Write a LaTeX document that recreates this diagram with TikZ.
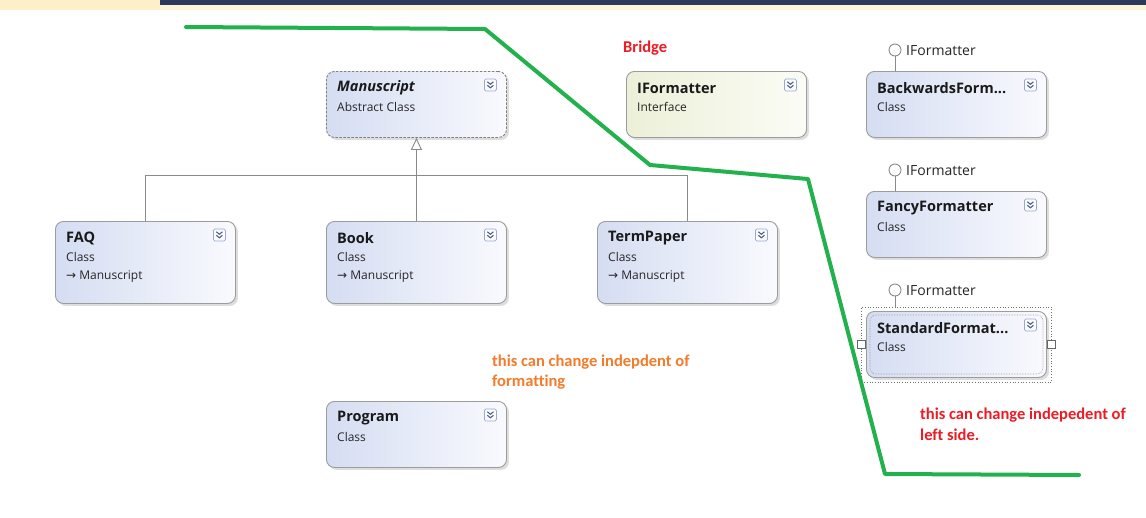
\documentclass[tikz,border=0pt]{standalone}
\usepackage{fontspec}
\setmainfont{Open Sans}
\newfontfamily\annot[Ligatures=NoCommon]{Carlito}
\newfontfamily\dejavu{DejaVu Sans}
\usetikzlibrary{shadows,arrows.meta}
\definecolor{navy}{HTML}{2B3A5C}
\definecolor{strip}{HTML}{FFF3D6}
\definecolor{stripL}{HTML}{FFEFC8}
\definecolor{boxborder}{HTML}{9C9C9C}
\definecolor{blueL}{HTML}{D5DDF2}
\definecolor{blueR}{HTML}{F9FAFE}
\definecolor{greenL}{HTML}{ECF0D8}
\definecolor{greenR}{HTML}{FBFCF6}
\definecolor{chevc}{HTML}{4A5E90}
\definecolor{expb}{HTML}{9AAAD0}
\definecolor{paintgreen}{HTML}{22B14C}
\definecolor{paintred}{HTML}{ED1C24}
\definecolor{paintorange}{HTML}{F47B2A}
\definecolor{linec}{HTML}{8A8A8A}
\tikzset{
  cls/.style={draw=boxborder, line width=0.9pt, rounded corners=8pt,
    minimum width=180pt, minimum height=66pt, anchor=north west, inner sep=0pt,
    left color=blueL, right color=blueR,
    drop shadow={shadow xshift=2.5pt, shadow yshift=-2.5pt, fill=black!22, opacity=0.6}},
  ttl/.style={anchor=west, inner sep=0pt, font=\fontsize{14.5}{16}\selectfont\bfseries, text=black!90},
  sub/.style={anchor=west, inner sep=0pt, font=\fontsize{12}{14}\selectfont, text=black!85},
  exp/.style={draw=expb, fill=white!92!blueL, rounded corners=1.5pt, minimum size=12pt, inner sep=0pt, line width=0.7pt},
  chev/.style={draw=chevc, line width=1.1pt},
  conn/.style={draw=linec, line width=0.9pt},
  lolly/.style={circle, draw=linec, fill=white, line width=0.9pt, minimum size=12pt, inner sep=0pt},
  llab/.style={anchor=west, inner sep=0pt, font=\fontsize{14}{16}\selectfont, text=black!85},
  note/.style={anchor=west, inner sep=0pt, font=\annot\bfseries\fontsize{16.5}{18}\selectfont},
  handline/.style={draw=paintgreen, line width=4pt, line join=round, line cap=round},
}
\newcommand{\expander}[1]{%
  \node[exp] (#1-e) at ([xshift=-16.5pt,yshift=-14pt]#1.north east) {};
  \draw[chev] ([shift={(-3pt,3.2pt)}]#1-e.center) -- ([shift={(0pt,0.7pt)}]#1-e.center) -- ([shift={(3pt,3.2pt)}]#1-e.center);
  \draw[chev] ([shift={(-3pt,-0.3pt)}]#1-e.center) -- ([shift={(0pt,-2.8pt)}]#1-e.center) -- ([shift={(3pt,-0.3pt)}]#1-e.center);
}
\newcommand{\boxtext}[3]{%
  \node[ttl] (#1-t) at ([xshift=11pt,yshift=-17.5pt]#1.north west) {#2};
  \node[sub] (#1-s) at ([xshift=11pt,yshift=-36pt]#1.north west) {#3};
}
\begin{document}
\begin{tikzpicture}[x=1pt,y=-1pt]
\useasboundingbox (0,0) rectangle (1146,517);
\fill[white] (0,0) rectangle (1146,517);
% top strip
\fill[strip] (0,0) rectangle (1146,10);
\fill[stripL] (0,0) rectangle (160,10);
\fill[navy] (160,0) rectangle (1146,4.6);

% boxes
\node[cls, draw=black!50, dashed, dash pattern=on 2.5pt off 1.5pt] (ms) at (326,71) {};
\node[cls, left color=greenL, right color=greenR] (ifm) at (626,71) {};
\node[cls] (bf) at (866,71) {};
\node[cls] (ff) at (866,191) {};
\node[cls] (sf) at (866,311) {};
\node[cls, minimum height=82pt] (faq) at (55,221) {};
\node[cls, minimum height=82pt] (book) at (326,221) {};
\node[cls, minimum height=82pt] (tp) at (597,221) {};
\node[cls] (prog) at (326,401) {};

% selection frame on StandardFormatter
\node[draw=black!55, dotted, line width=0.7pt, minimum width=190pt, minimum height=75pt, inner sep=0pt] (sel) at (sf.center) {};
\node[draw=black!40, densely dotted, rounded corners=6pt, line width=0.6pt, minimum width=173pt, minimum height=59pt, inner sep=0pt] (selin) at (sf.center) {};
\node[draw=black!60, fill=white, minimum size=8pt, inner sep=0pt, line width=0.7pt] (selL) at (sel.west) {};
\node[draw=black!60, fill=white, minimum size=8pt, inner sep=0pt, line width=0.7pt] (selR) at (sel.east) {};

% texts
\node[ttl, font=\fontsize{14.5}{16}\selectfont\bfseries\itshape] (ms-t) at ([xshift=11pt,yshift=-16.5pt]ms.north west) {Manuscript};
\node[sub] (ms-s) at ([xshift=11pt,yshift=-36pt]ms.north west) {Abstract Class};
\boxtext{ifm}{IFormatter}{Interface}
\boxtext{bf}{BackwardsForm...}{Class}
\boxtext{ff}{FancyFormatter}{Class}
\boxtext{sf}{StandardFormat...}{Class}
\boxtext{faq}{FAQ}{Class}
\boxtext{book}{Book}{Class}
\boxtext{tp}{TermPaper}{Class}
\boxtext{prog}{Program}{Class}
\foreach \b in {faq,book,tp}{
  \node[sub] (\b-p) at ([xshift=11pt,yshift=-56pt]\b.north west) {{\dejavu\fontsize{12}{14}\selectfont →}\ Manuscript};
}
\foreach \b in {ms,ifm,bf,ff,sf,faq,book,tp,prog}{\expander{\b}}

% inheritance
\coordinate (bar) at (416,175);
\draw[conn] (faq.north) |- (bar);
\draw[conn] (tp.north) |- (bar);
\draw[conn, -{Triangle[open, length=12pt, width=11pt, line width=0.9pt]}] (book.north) -- (ms.south);

% lollipops
\node[lolly] (l1) at (895,50) {};
\node[lolly] (l2) at (895,170) {};
\node[lolly] (l3) at (895,290) {};
\draw[conn] (l1.south) -- (l1 |- bf.north);
\draw[conn] (l2.south) -- (l2 |- ff.north);
\draw[conn] (l3.south) -- (l3 |- sel.north);
\node[llab] (l1-t) at (906,51) {IFormatter};
\node[llab] (l2-t) at (906,171) {IFormatter};
\node[llab] (l3-t) at (906,291) {IFormatter};

% annotations
\node[note, text=paintred] (bridge) at (623,48) {Bridge};
\node[note, text=paintorange] (n1a) at (492,362) {this can change indepdent of};
\node[note, text=paintorange] (n1b) at (492,382) {formatting};
\node[note, text=paintred] (n2a) at (920,415) {this can change indepedent of};
\node[note, text=paintred] (n2b) at (920,435) {left side.};

% hand-drawn divider
\coordinate (g1) at (186,27);
\coordinate (g2) at (485,29);
\coordinate (g3) at (650,165);
\coordinate (g4) at (808,179);
\coordinate (g5) at (885,474);
\coordinate (g6) at (1079,475);
\draw[handline] (g1) -- (g2) -- (g3) -- (g4) -- (g5) -- (g6);
\end{tikzpicture}
\end{document}
